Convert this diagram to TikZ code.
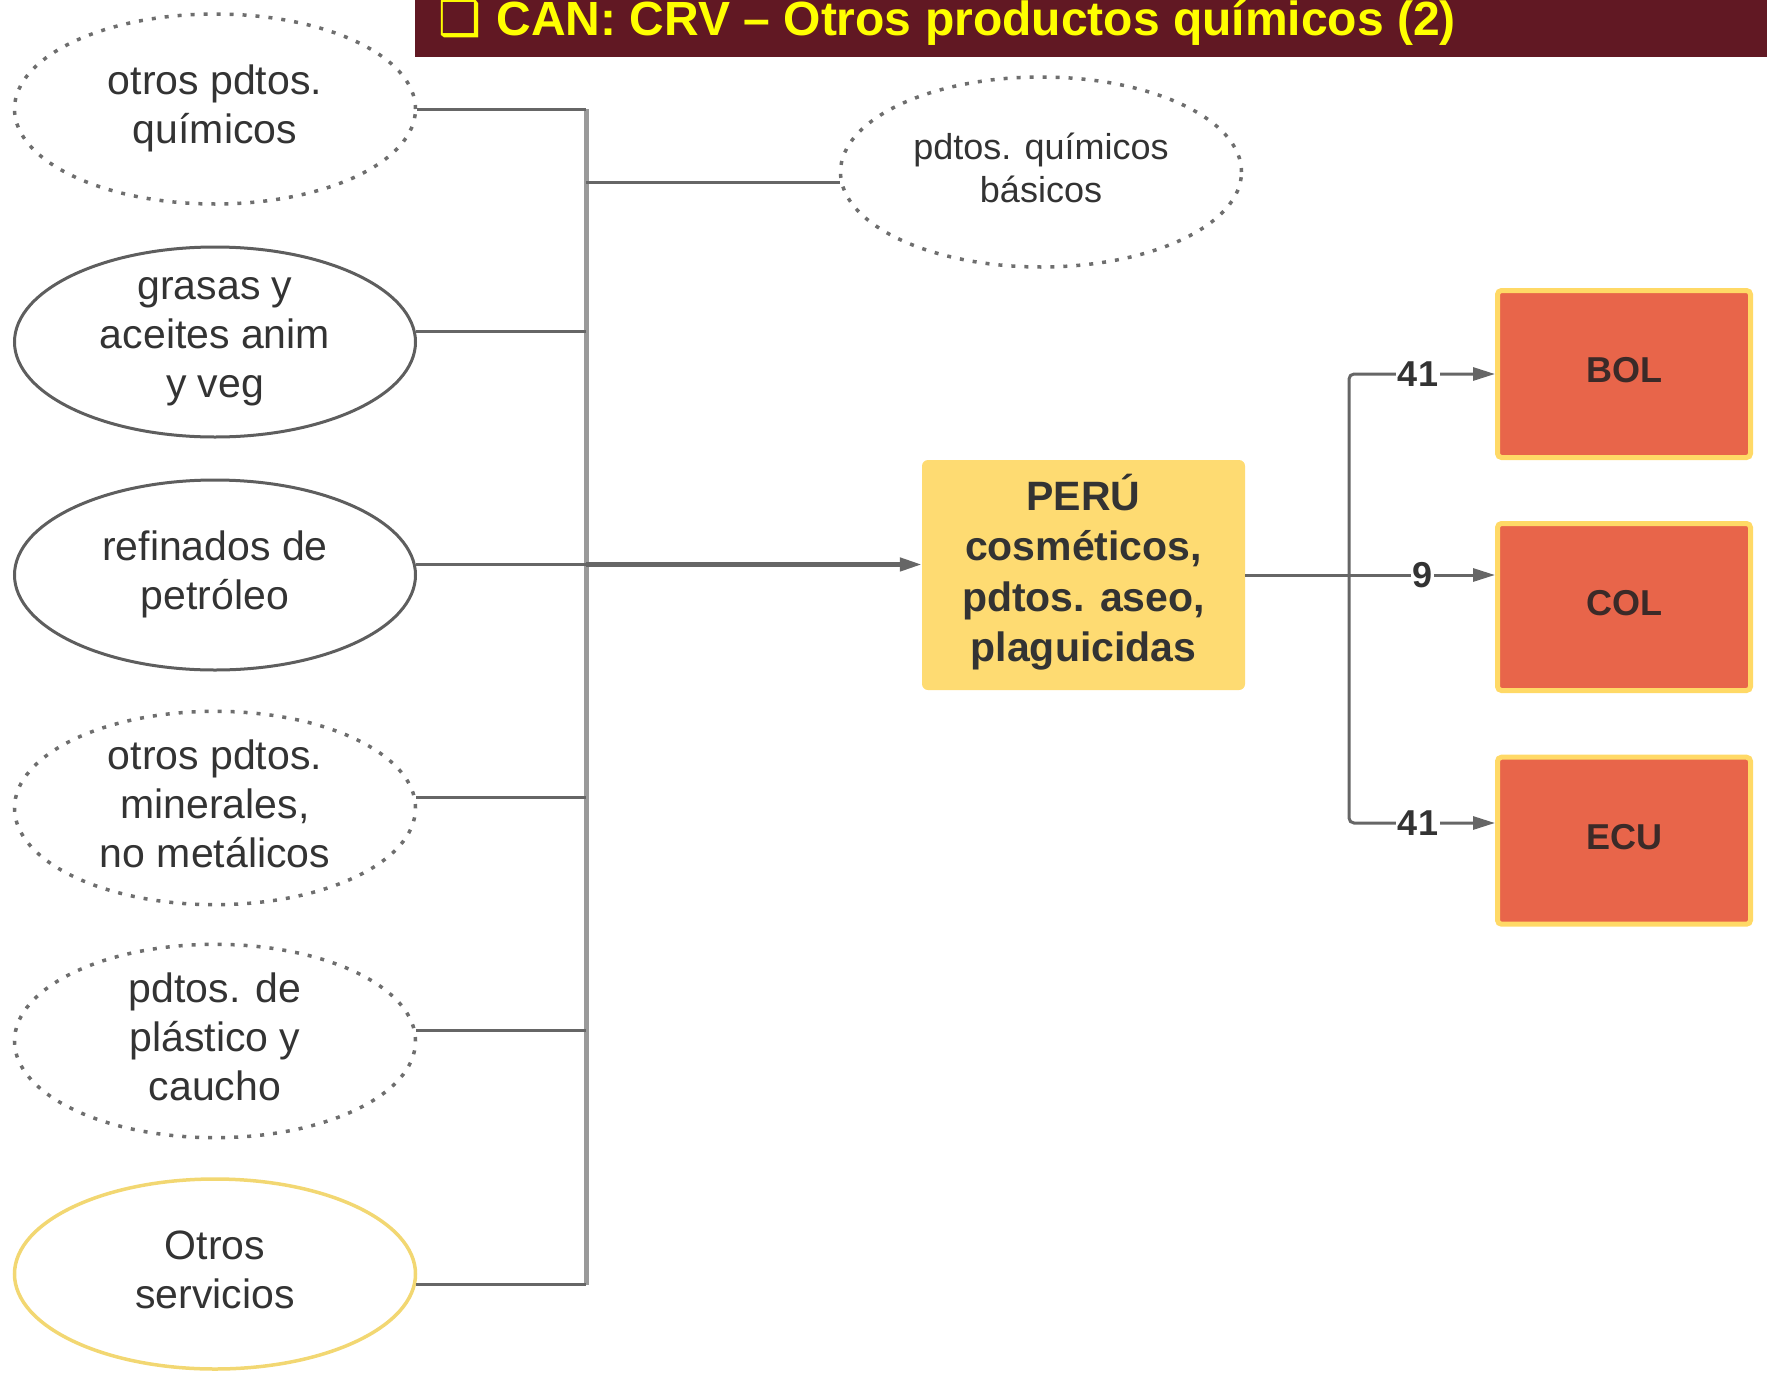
\documentclass[tikz,border=0pt]{standalone}
\usepackage{fontspec}
\setmainfont{Liberation Sans}
\newfontfamily\dejavu{DejaVu Sans}
\usetikzlibrary{shapes.geometric,arrows.meta}
\definecolor{titlebg}{HTML}{611823}
\definecolor{titleyellow}{HTML}{FFFF00}
\definecolor{txt}{HTML}{333333}
\definecolor{ellgray}{HTML}{5E5E5E}
\definecolor{dotgray}{HTML}{6E6E6E}
\definecolor{conngray}{HTML}{666666}
\definecolor{bargray}{HTML}{9A9A9A}
\definecolor{peruyellow}{HTML}{FEDB72}
\definecolor{ctyred}{HTML}{E8654A}
\definecolor{ctyborder}{HTML}{FFD966}
\definecolor{ctytxt}{HTML}{3B2A28}
\definecolor{ellyellow}{HTML}{F2D772}
\newcommand\dpstrut[1]{\rule[-#1em]{0pt}{0pt}}
\begin{document}
\begin{tikzpicture}[x=1pt,y=-1pt,
  ell/.style={ellipse, minimum width=401pt, minimum height=190pt, inner sep=0pt,
    align=center, text=txt, font=\fontsize{41}{49}\selectfont, line width=3pt, draw=ellgray},
  dotell/.style={ell, draw=dotgray, line width=3.5pt, dash pattern=on 4pt off 9pt},
  yelell/.style={ell, draw=ellyellow, line width=3.5pt},
  conn/.style={draw=conngray, line width=3pt},
  bar/.style={draw=bargray, line width=5pt},
  arr/.style={-{Triangle[length=22pt,width=13pt]}},
  peru/.style={rectangle, rounded corners=6pt, fill=peruyellow, minimum width=323pt,
    minimum height=230pt, align=center, text=txt, font=\fontsize{41}{50.5}\selectfont\bfseries},
  cty/.style={rectangle, rounded corners=4pt, fill=ctyred, draw=ctyborder, line width=5pt,
    minimum width=253pt, minimum height=167pt, text=ctytxt, font=\fontsize{36}{43}\selectfont\bfseries},
  lbl/.style={fill=white, inner sep=1.5pt, text=txt, font=\fontsize{36}{43}\selectfont\bfseries}
]
\useasboundingbox (0,0) rectangle (1767,1376);
% title
\fill[titlebg] (415,-2) rectangle (1767,57);
\node[anchor=base west, inner sep=0pt, text=titleyellow,
  font=\fontsize{48}{56}\selectfont\bfseries] (title) at (438,35)
  {{\dejavu ❑}\hspace{2pt} CAN: CRV – Otros productos químicos (2)};
% left ellipses
\node[dotell] (e1) at (215,109) {otros pdtos.\\químicos\dpstrut{0.22}};
\node[ell] (e2) at (215,342) {grasas y\\aceites anim\\y veg\dpstrut{0.22}};
\node[ell] (e3) at (215,575) {refinados de\\petróleo\dpstrut{0.22}};
\node[dotell] (e4) at (215,808) {otros pdtos.\\minerales,\\no metálicos\dpstrut{0.22}};
\node[dotell] (e5) at (215,1041) {pdtos. de\\plástico y\\caucho\dpstrut{0.22}};
\node[yelell] (e6) at (215,1274) {Otros\\servicios\dpstrut{0.22}};
% top right ellipse
\node[dotell, font=\fontsize{36}{43}\selectfont] (pb) at (1041,172) {pdtos. químicos\\básicos\dpstrut{0.22}};
% center box
\node[peru] (peru) at (1083.5,575) {PERÚ\\cosméticos,\\pdtos. aseo,\\plaguicidas\dpstrut{0.36}};
% country boxes
\node[cty] (bol) at (1624,374) {BOL\dpstrut{0.22}};
\node[cty] (col) at (1624,607) {COL\dpstrut{0.22}};
\node[cty] (ecu) at (1624,840.7) {ECU\dpstrut{0.22}};
% bar
\coordinate (bt) at (586,109);
\coordinate (bb) at (586,1285);
\draw[bar] (bt) -- (bb);
% connectors into bar
\draw[conn] (e1.east) -- (e1.east -| bt);
\draw[conn] (e2.3) -- (e2.3 -| bt);
\draw[conn] (e3.3) -- (e3.3 -| bt);
\draw[conn] (e4.3) -- (e4.3 -| bt);
\draw[conn] (e5.3) -- (e5.3 -| bt);
\draw[conn] (e6.-3) -- (e6.-3 -| bt);
\draw[conn] (pb.183 -| bt) -- (pb.183);
% main arrow
\draw[conn, line width=4.5pt, arr] (e3.3 -| bt) -- (e3.3 -| peru.west);
% right side
\coordinate (jx) at (1349,575);
\coordinate (ein) at (1495,823);
\draw[conn] (peru.east) -- (jx);
\draw[conn, arr, rounded corners=5pt] (jx) |- (bol.west);
\draw[conn, arr] (jx) -- (jx -| col.west);
\draw[conn, arr, rounded corners=5pt] (jx) |- (ein);
\node[lbl] (l1) at (1418,374) {41};
\node[lbl] (l2) at (1422,575) {9};
\node[lbl] (l3) at (1418,823) {41};
\end{tikzpicture}
\end{document}
